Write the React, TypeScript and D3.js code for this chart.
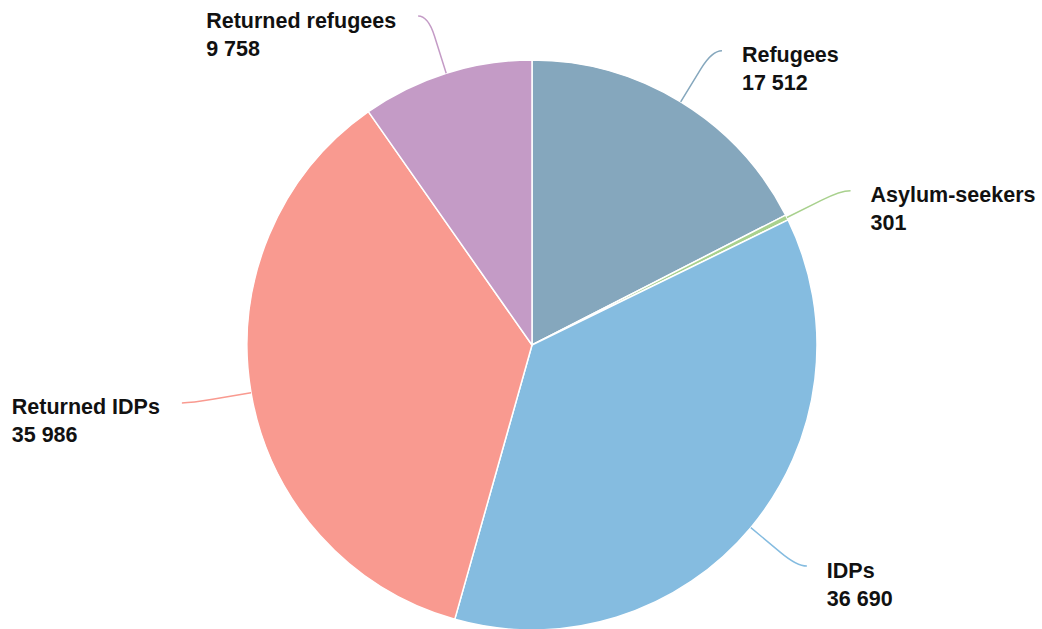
import React from "react";
import * as d3 from "d3";

const categories = ["Refugees", "Asylum-seekers", "IDPs", "Returned IDPs", "Returned refugees"];
const values = [17512, 301, 36690, 35986, 9758];
const colors = ["#85a7bd", "#a9d18e", "#85bce0", "#f99a90", "#c49bc6"];

const W = 1042;
const H = 629;
const CX = 532;
const CY = 345;
const R = 285;
const FONT = "bold 21.5px 'Liberation Sans', Arial, sans-serif";

function measure(text: string): number {
  const c = document.createElement("canvas");
  const ctx = c.getContext("2d");
  if (!ctx) return text.length * 12;
  ctx.font = FONT;
  return ctx.measureText(text).width;
}

const fmt = (v: number) => d3.format(",")(v).replace(/,/g, " ");

export default function App() {
  const data = categories.map((c, i) => ({ name: c, value: values[i], color: colors[i] }));
  const pie = d3.pie<any>().value((d: any) => d.value).sort(null);
  const arcs = pie(data);
  const arc = d3.arc<any>().innerRadius(0).outerRadius(R);
  const L = 60;
  const L2 = 10;

  return (
    <svg width={W} height={H} style={{ position: "absolute", left: 0, top: 0, background: "#fff" }}>
      <g transform={`translate(${CX},${CY})`}>
        {arcs.map((a, i) => (
          <path key={i} d={arc(a) || ""} fill={a.data.color} stroke="#fff" strokeWidth={1.5} strokeLinejoin="round" />
        ))}
      </g>
      {arcs.map((a, i) => {
        const mid = (a.startAngle + a.endAngle) / 2;
        const dx = Math.sin(mid);
        const dy = -Math.cos(mid);
        const p0 = [CX + R * dx, CY + R * dy];
        const p1 = [p0[0] + L * dx, p0[1] + L * dy];
        const right = dx >= 0;
        const p2 = [p1[0] + (right ? L2 : -L2), p1[1]];
        // smooth curve
        const t = 0.35;
        const c1 = [p1[0] + (p0[0] - p1[0]) * t, p1[1] + (p0[1] - p1[1]) * t];
        const path = `M${p0[0]},${p0[1]} L${c1[0]},${c1[1]} Q${p1[0]},${p1[1]} ${p2[0]},${p2[1]}`;
        const line1 = a.data.name;
        const line2 = fmt(a.data.value);
        const bw = Math.max(measure(line1), measure(line2));
        const tx = right ? p2[0] + 20 : p2[0] - 22 - bw;
        const by = p2[1] + 11.5;
        return (
          <g key={"l" + i}>
            <path d={path} fill="none" stroke={a.data.color} strokeWidth={1.5} />
            <text
              x={tx}
              y={by}
              style={{ font: FONT }}
              fill="#111"
              stroke="#fff"
              strokeWidth={2}
              strokeOpacity={0.6}
              paintOrder="stroke"
            >
              <tspan x={tx} y={by}>{line1}</tspan>
              <tspan x={tx} y={by + 28}>{line2}</tspan>
            </text>
          </g>
        );
      })}
    </svg>
  );
}
